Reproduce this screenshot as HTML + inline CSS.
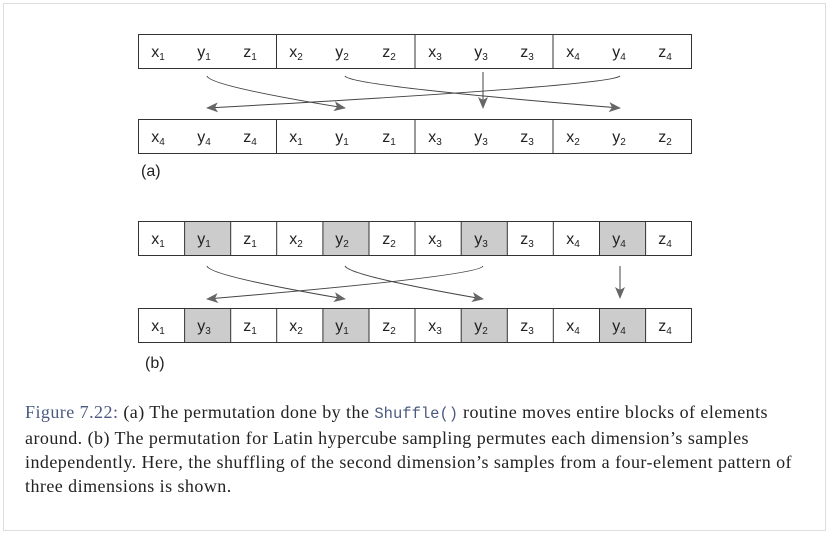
<!DOCTYPE html>
<html><head><meta charset="utf-8"><style>
body{margin:0;background:#fff;}
.wrap{position:relative;width:830px;height:536px;overflow:hidden;}
.frame{position:absolute;left:3px;top:3px;width:823px;height:528px;border:1px solid #ddd;box-sizing:border-box;}
.cap{position:absolute;left:25px;top:400px;width:800px;white-space:nowrap;font-family:"Liberation Serif",serif;font-size:18px;letter-spacing:0.45px;line-height:24px;color:#222;}
.cap .f{color:#4a5a80;}
.cap code{font-family:"Liberation Mono",monospace;color:#4a5a80;font-size:15.5px;letter-spacing:0;}
</style></head><body><div class="wrap">
<div class="frame"></div>
<svg width="830" height="536" style="position:absolute;left:0;top:0" font-family="Liberation Sans, sans-serif" font-size="16" fill="#222">
<defs><marker id="a" markerWidth="12" markerHeight="10" refX="11" refY="5" orient="auto" markerUnits="userSpaceOnUse"><path d="M0,0 L12,5 L0,10 L3,5z" fill="#666"/></marker></defs>
<rect x="138.5" y="34.5" width="553" height="34" fill="#fff" stroke="#333"/>
<line x1="276.5" y1="34" x2="276.5" y2="69" stroke="#333"/><line x1="415" y1="34" x2="415" y2="69" stroke="#333"/><line x1="553" y1="34" x2="553" y2="69" stroke="#333"/>
<rect x="138.5" y="119.5" width="553" height="34" fill="#fff" stroke="#333"/>
<line x1="276.5" y1="119" x2="276.5" y2="154" stroke="#333"/><line x1="415" y1="119" x2="415" y2="154" stroke="#333"/><line x1="553" y1="119" x2="553" y2="154" stroke="#333"/>
<g stroke="#333">
<rect x="138.5" y="221.5" width="553" height="34" fill="#fff"/>
<rect x="184.6" y="221.5" width="46.1" height="34" fill="#ccc"/><rect x="322.9" y="221.5" width="46.1" height="34" fill="#ccc"/><rect x="461.2" y="221.5" width="46.1" height="34" fill="#ccc"/><rect x="599.5" y="221.5" width="46.1" height="34" fill="#ccc"/>
<rect x="138.5" y="308.5" width="553" height="34" fill="#fff"/>
<rect x="184.6" y="308.5" width="46.1" height="34" fill="#ccc"/><rect x="322.9" y="308.5" width="46.1" height="34" fill="#ccc"/><rect x="461.2" y="308.5" width="46.1" height="34" fill="#ccc"/><rect x="599.5" y="308.5" width="46.1" height="34" fill="#ccc"/>
<path d="M276.7 221v35M415 221v35M553.3 221v35M276.7 308v35M415 308v35M553.3 308v35" fill="none"/>
</g>
<g text-anchor="middle">
<text y="57"><tspan x="158">x<tspan font-size="10" dy="3">1</tspan></tspan><tspan x="204" dy="-3">y<tspan font-size="10" dy="3">1</tspan></tspan><tspan x="250" dy="-3">z<tspan font-size="10" dy="3">1</tspan></tspan><tspan x="296" dy="-3">x<tspan font-size="10" dy="3">2</tspan></tspan><tspan x="342" dy="-3">y<tspan font-size="10" dy="3">2</tspan></tspan><tspan x="389" dy="-3">z<tspan font-size="10" dy="3">2</tspan></tspan><tspan x="435" dy="-3">x<tspan font-size="10" dy="3">3</tspan></tspan><tspan x="481" dy="-3">y<tspan font-size="10" dy="3">3</tspan></tspan><tspan x="527" dy="-3">z<tspan font-size="10" dy="3">3</tspan></tspan><tspan x="573" dy="-3">x<tspan font-size="10" dy="3">4</tspan></tspan><tspan x="619" dy="-3">y<tspan font-size="10" dy="3">4</tspan></tspan><tspan x="665" dy="-3">z<tspan font-size="10" dy="3">4</tspan></tspan></text>
<text y="142"><tspan x="158">x<tspan font-size="10" dy="3">4</tspan></tspan><tspan x="204" dy="-3">y<tspan font-size="10" dy="3">4</tspan></tspan><tspan x="250" dy="-3">z<tspan font-size="10" dy="3">4</tspan></tspan><tspan x="296" dy="-3">x<tspan font-size="10" dy="3">1</tspan></tspan><tspan x="342" dy="-3">y<tspan font-size="10" dy="3">1</tspan></tspan><tspan x="389" dy="-3">z<tspan font-size="10" dy="3">1</tspan></tspan><tspan x="435" dy="-3">x<tspan font-size="10" dy="3">3</tspan></tspan><tspan x="481" dy="-3">y<tspan font-size="10" dy="3">3</tspan></tspan><tspan x="527" dy="-3">z<tspan font-size="10" dy="3">3</tspan></tspan><tspan x="573" dy="-3">x<tspan font-size="10" dy="3">2</tspan></tspan><tspan x="619" dy="-3">y<tspan font-size="10" dy="3">2</tspan></tspan><tspan x="665" dy="-3">z<tspan font-size="10" dy="3">2</tspan></tspan></text>
<text y="244"><tspan x="158">x<tspan font-size="10" dy="3">1</tspan></tspan><tspan x="204" dy="-3">y<tspan font-size="10" dy="3">1</tspan></tspan><tspan x="250" dy="-3">z<tspan font-size="10" dy="3">1</tspan></tspan><tspan x="296" dy="-3">x<tspan font-size="10" dy="3">2</tspan></tspan><tspan x="342" dy="-3">y<tspan font-size="10" dy="3">2</tspan></tspan><tspan x="389" dy="-3">z<tspan font-size="10" dy="3">2</tspan></tspan><tspan x="435" dy="-3">x<tspan font-size="10" dy="3">3</tspan></tspan><tspan x="481" dy="-3">y<tspan font-size="10" dy="3">3</tspan></tspan><tspan x="527" dy="-3">z<tspan font-size="10" dy="3">3</tspan></tspan><tspan x="573" dy="-3">x<tspan font-size="10" dy="3">4</tspan></tspan><tspan x="619" dy="-3">y<tspan font-size="10" dy="3">4</tspan></tspan><tspan x="665" dy="-3">z<tspan font-size="10" dy="3">4</tspan></tspan></text>
<text y="331"><tspan x="158">x<tspan font-size="10" dy="3">1</tspan></tspan><tspan x="204" dy="-3">y<tspan font-size="10" dy="3">3</tspan></tspan><tspan x="250" dy="-3">z<tspan font-size="10" dy="3">1</tspan></tspan><tspan x="296" dy="-3">x<tspan font-size="10" dy="3">2</tspan></tspan><tspan x="342" dy="-3">y<tspan font-size="10" dy="3">1</tspan></tspan><tspan x="389" dy="-3">z<tspan font-size="10" dy="3">2</tspan></tspan><tspan x="435" dy="-3">x<tspan font-size="10" dy="3">3</tspan></tspan><tspan x="481" dy="-3">y<tspan font-size="10" dy="3">2</tspan></tspan><tspan x="527" dy="-3">z<tspan font-size="10" dy="3">3</tspan></tspan><tspan x="573" dy="-3">x<tspan font-size="10" dy="3">4</tspan></tspan><tspan x="619" dy="-3">y<tspan font-size="10" dy="3">4</tspan></tspan><tspan x="665" dy="-3">z<tspan font-size="10" dy="3">4</tspan></tspan></text>
</g>
<text x="141" y="176">(a)</text>
<text x="145" y="368">(b)</text>
<g fill="none" stroke="#444" stroke-width="1" marker-end="url(#a)">
<path d="M207 76 Q210 86 345 108"/>
<path d="M345 76 Q350 86 620 108"/>
<path d="M620 76 Q610 86 207 108"/>
<path d="M483 72 V108"/>
<path d="M207 266 Q210 276 345 299"/>
<path d="M345 266 Q350 276 483 299"/>
<path d="M483 266 Q480 276 207 299"/>
<path d="M620 266 V298"/>
</g>
</svg>
<div class="cap"><span class="f">Figure 7.22:</span> (a) The permutation done by the <code>Shuffle()</code> routine moves entire blocks of elements<br>around. (b) The permutation for Latin hypercube sampling permutes each dimension’s samples<br>independently. Here, the shuffling of the second dimension’s samples from a four-element pattern of<br>three dimensions is shown.</div>
</div></body></html>
